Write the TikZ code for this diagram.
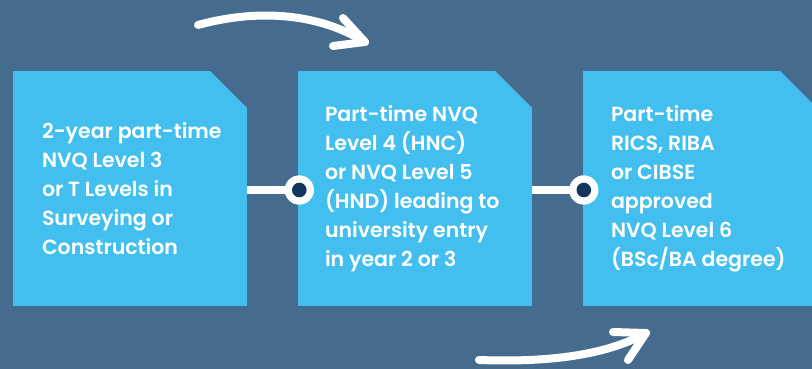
\documentclass[tikz,border=0pt]{standalone}
\usepackage{fontspec}
\newfontfamily\boxfont{Poppins SemiBold}
\definecolor{bgblue}{HTML}{456C8F}
\definecolor{boxblue}{HTML}{42BFEE}
\definecolor{dotblue}{HTML}{13365C}
\tikzset{
  stage/.style={fill=boxblue, minimum width=234pt, minimum height=235pt, inner sep=0pt},
  stagetext/.style={anchor=west, align=left, text=white, inner sep=0pt,
    font=\boxfont\fontsize{20.5}{29}\selectfont},
  link/.style={white, line width=8pt},
  ring/.style={circle, fill=white, minimum size=29pt, inner sep=0pt},
  swoosh/.style={white, line width=8pt, line cap=round, line join=round}
}
\begin{document}
\begin{tikzpicture}[x=1pt,y=-1pt]
  \fill[bgblue] (0,0) rectangle (812,369);
  \useasboundingbox (0,0) rectangle (812,369);
  \clip (0,0) rectangle (812,369);

  \node[stage] (b1) at (130,188.5) {};
  \node[stage] (b2) at (415,188.5) {};
  \node[stage] (b3) at (700,188.5) {};
  \foreach \b in {b1,b2,b3}
    \fill[bgblue] (\b.north east) -- ++(-37,0) -- ++(37,37) -- cycle;

  \node[stagetext] (t1) at ([xshift=29pt]b1.west) {2-year part-time\\NVQ Level 3\\or T Levels in\\Surveying or\\Construction};
  \node[stagetext] (t2) at ([xshift=27pt]b2.west) {Part-time NVQ\\Level 4 (HNC)\\or NVQ Level 5\\(HND) leading to\\university entry\\in year 2 or 3};
  \node[stagetext] (t3) at ([xshift=28pt]b3.west) {Part-time\\RICS, RIBA\\or CIBSE\\approved\\NVQ Level 6\\(BSc/BA degree)};

  \node[ring] (r1) at ([xshift=1.5pt,yshift=-1.5pt]b2.west) {};
  \node[ring] (r2) at ([xshift=1pt,yshift=-1.5pt]b3.west) {};
  \draw[link] (r1.center -| b1.east) -- (r1.center);
  \draw[link] (r2.center -| b2.east) -- (r2.center);
  \foreach \r in {r1,r2} {
    \node[ring] at (\r) {};
    \fill[dotblue] (\r) circle (7.3);
  }

  \coordinate (a1) at (198,25);
  \coordinate (a2) at (365,42);
  \draw[swoosh] (a1) .. controls (260,8) and (320,14) .. (a2);
  \draw[swoosh] (343,18) -- (a2) -- (333,46);

  \coordinate (c1) at (479,360);
  \coordinate (c2) at (646,333);
  \draw[swoosh] (c1) .. controls (560,363) and (612,352) .. (c2);
  \draw[swoosh] (613,332) -- (c2) -- (628,360);
\end{tikzpicture}
\end{document}
